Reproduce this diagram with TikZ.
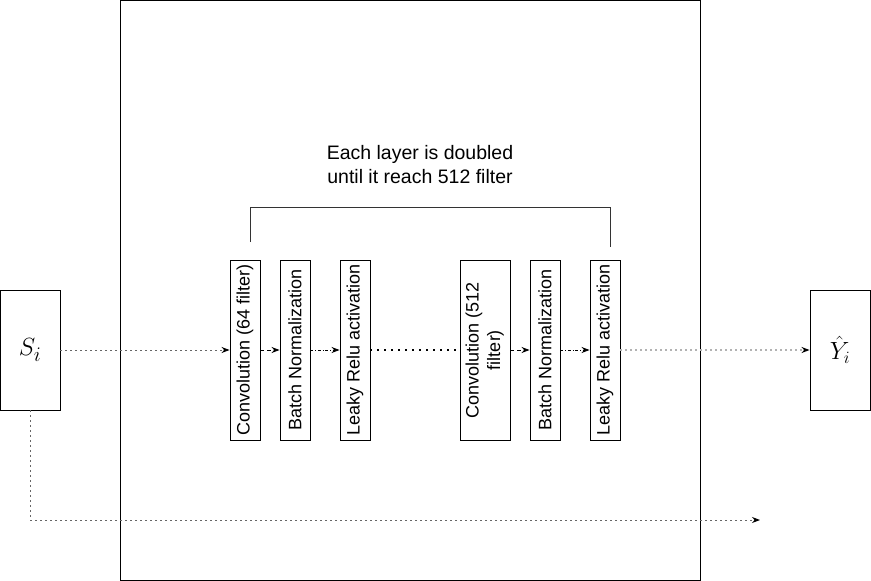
\documentclass[tikz,border=0pt]{standalone}
\usepackage{fontspec}
\setmainfont{Liberation Sans}
\usepackage{amsmath}
\usetikzlibrary{arrows.meta}

\begin{document}
\begin{tikzpicture}[x={(1pt,0pt)}, y={(0pt,-1pt)},
  layer/.style={draw,rectangle,fill=white,line width=0.9pt,inner sep=0pt,minimum height=180pt,font=\fontsize{18}{21.5}\selectfont},
  io/.style={draw,rectangle,fill=white,line width=0.9pt,minimum width=60pt,minimum height=120pt},
  tip/.style={-{Stealth[length=8pt,width=6pt,color=black]}}]
  \useasboundingbox (0,0) rectangle (871,581);
  % Frame
  \node[draw,rectangle,line width=1pt,minimum width=580pt,minimum height=580pt] (Frame) at (410,290) {};
  % Nodes
  \node[io] (Input) at (30,350) {\fontsize{31}{31}\selectfont$S_i$};
  \node[io] (Output) at (840,350) {\fontsize{24}{24}\selectfont$\hat{Y}_i$};
  \node[layer,minimum width=30pt] (Conv1) at (245,350) {\rotatebox{90}{Convolution (64 filter)}};
  \node[layer,minimum width=30pt] (Norm1) at (295,350) {\rotatebox{90}{Batch Normalization}};
  \node[layer,minimum width=30pt] (Relu1) at (355,350) {\rotatebox{90}{Leaky Relu activation}};
  \node[layer,minimum width=50pt] (Conv2) at (485,350) {\rotatebox{90}{\begin{tabular}{@{}c@{}}Convolution (512\\filter)\end{tabular}}};
  \node[layer,minimum width=30pt] (Norm2) at (545,350) {\rotatebox{90}{Batch Normalization}};
  \node[layer,minimum width=30pt] (Relu2) at (605,350) {\rotatebox{90}{Leaky Relu activation}};
  \node[align=center,font=\fontsize{19.5}{24}\selectfont] (Note) at (420,165) {Each layer is doubled\\until it reach 512 filter};
  \coordinate (Skip) at (760,520);
  % Edges
  \draw[tip,dash pattern=on 2pt off 3pt,black!60,line width=0.9pt] (Input.east) -- (Conv1.west);
  \draw[tip,dash pattern=on 4pt off 3pt,line width=0.9pt] (Conv1.east) -- (Norm1.west);
  \draw[tip,dash dot,line width=0.9pt] (Norm1.east) -- (Relu1.west);
  \draw[dash pattern=on 2pt off 5pt,line width=2pt] (Relu1.east) -- (Conv2.west);
  \draw[tip,dash pattern=on 4pt off 3pt,line width=0.9pt] (Conv2.east) -- (Norm2.west);
  \draw[tip,dash dot,line width=0.9pt] (Norm2.east) -- (Relu2.west);
  \draw[tip,dash pattern=on 2pt off 3pt,black!30,line width=1.3pt] (Relu2.east) -- (Output.west);
  \draw[tip,dash pattern=on 2pt off 3pt,black!60,line width=0.9pt] (Input.south) |- (Skip);
  % Bracket
  \draw[black!80,line width=0.9pt] (250,242) -- (250,207) -- (610,207) -- (610,247);
\end{tikzpicture}
\end{document}
